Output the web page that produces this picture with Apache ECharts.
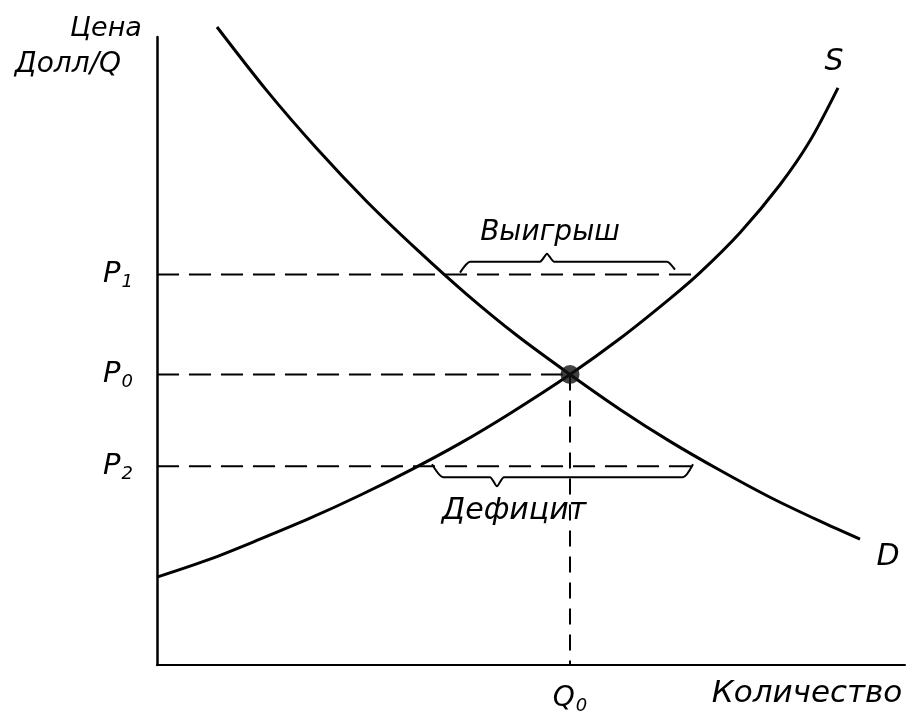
<!DOCTYPE html>
<html>
<head>
<meta charset="utf-8">
<script src="https://cdn.jsdelivr.net/npm/echarts@6/dist/echarts.min.js"></script>
<style>html,body{margin:0;padding:0;background:#fff;}#c{width:914px;height:715px;}</style>
</head>
<body>
<div id="c"></div>
<script>
// ---- data (arbitrary units) ----
const xMax = 748, yMax = 629;
const demandQ = [60, 110, 160, 210, 260, 310, 360, 413, 463, 513, 563, 613, 663, 703];
const demandP = [639, 575, 517, 464, 416, 371, 330, 291, 256, 224, 195, 168, 144, 126];
const supplyQ = [0, 53, 103, 153, 203, 253, 303, 353, 413, 463, 513, 543, 583, 623, 653, 681];
const supplyP = [88, 106, 126, 147, 170, 195, 222, 252, 291, 327, 367, 393, 433, 481, 525, 578];
const P1 = 391, P0 = 291, P2 = 199, Q0 = 413;
const P1end = 536, P2end = 543;
const priceTicks = [P1, P0, P2];
const priceTickNames = ['1', '0', '2'];
const qtyTicks = [Q0];
const qtyTickNames = ['0'];
const gainBraceQ = [303, 313, 383, 390, 397, 510, 518];
const gainBraceP = [393, 404, 404, 412, 404, 404, 396];
const shortBraceQ = [275, 286, 333, 340, 347, 526, 536];
const shortBraceP = [201, 188, 188, 179, 188, 188, 201];

const zip = (a, b) => a.map((v, i) => [v, b[i]]);
const FONT = '"DejaVu Sans"';
const dashed = { color: '#000', width: 2, type: [22, 10] };

const chart = echarts.init(document.getElementById('c'), null, { renderer: 'canvas' });
chart.setOption({
  animation: false,
  backgroundColor: '#fff',
  grid: { left: 157, right: 9, top: 37, bottom: 49 },
  xAxis: {
    type: 'value', min: 0, max: xMax,
    axisLine: { lineStyle: { color: '#000', width: 2 } },
    axisTick: { show: false },
    splitLine: { show: false },
    axisLabel: {
      customValues: qtyTicks, margin: 18,
      formatter: v => '{p|Q}{s|' + qtyTickNames[qtyTicks.indexOf(v)] + '}',
      rich: {
        p: { fontSize: 28, fontStyle: 'italic', fontFamily: FONT, color: '#000' },
        s: { fontSize: 18, fontStyle: 'italic', fontFamily: FONT, color: '#000', padding: [14, 0, 0, 1] }
      }
    }
  },
  yAxis: {
    type: 'value', min: 0, max: yMax,
    axisLine: { show: true, lineStyle: { color: '#000', width: 2.5 } },
    axisTick: { show: false },
    splitLine: { show: false },
    axisLabel: {
      customValues: priceTicks, margin: 24,
      formatter: v => '{p|P}{s|' + priceTickNames[priceTicks.indexOf(v)] + '}',
      rich: {
        p: { fontSize: 29, fontStyle: 'italic', fontFamily: FONT, color: '#000' },
        s: { fontSize: 18, fontStyle: 'italic', fontFamily: FONT, color: '#000', padding: [16, 0, 0, 1] }
      }
    }
  },
  series: [
    { type: 'line', data: zip(demandQ, demandP), smooth: 0.3, symbol: 'none', clip: false,
      lineStyle: { color: '#000', width: 3 } },
    { type: 'line', data: zip(supplyQ, supplyP), smooth: 0.3, symbol: 'none', clip: false,
      lineStyle: { color: '#000', width: 3 } },
    { type: 'line', data: [[0, P1], [P1end, P1]], symbol: 'none', lineStyle: dashed },
    { type: 'line', data: [[0, P0], [Q0, P0]], symbol: 'none', lineStyle: dashed },
    { type: 'line', data: [[0, P2], [P2end, P2]], symbol: 'none', lineStyle: dashed },
    { type: 'line', data: [[Q0, P0], [Q0, 0]], symbol: 'none', lineStyle: { color: '#000', width: 2, type: [16, 10] } },
    { type: 'line', data: zip(gainBraceQ, gainBraceP), smooth: 0.2, symbol: 'none',
      lineStyle: { color: '#000', width: 2 } },
    { type: 'line', data: zip(shortBraceQ, shortBraceP), smooth: 0.2, symbol: 'none',
      lineStyle: { color: '#000', width: 2 } },
    { type: 'scatter', data: [[Q0, P0]], symbol: 'circle', symbolSize: 19,
      itemStyle: { color: '#111' }, z: 5 }
  ],
  graphic: [
    { type: 'text', x: 106, y: 29, style: { text: 'Цена', font: 'italic 27px ' + FONT, fill: '#000', align: 'center', verticalAlign: 'middle' } },
    { type: 'text', x: 68, y: 65, style: { text: 'Долл/Q', font: 'italic 28px ' + FONT, fill: '#000', align: 'center', verticalAlign: 'middle' } },
    { type: 'text', x: 807, y: 694, style: { text: 'Количество', font: 'italic 31px ' + FONT, fill: '#000', align: 'center', verticalAlign: 'middle' } },
    { type: 'text', x: 550, y: 233, style: { text: 'Выигрыш', font: 'italic 28px ' + FONT, fill: '#000', align: 'center', verticalAlign: 'middle' } },
    { type: 'text', x: 514, y: 511, style: { text: 'Дефицит', font: 'italic 30px ' + FONT, fill: '#000', align: 'center', verticalAlign: 'middle' } },
    { type: 'text', x: 834, y: 62, style: { text: 'S', font: 'italic 30px ' + FONT, fill: '#000', align: 'center', verticalAlign: 'middle' } },
    { type: 'text', x: 888, y: 557, style: { text: 'D', font: 'italic 30px ' + FONT, fill: '#000', align: 'center', verticalAlign: 'middle' } }
  ]
});
</script>
</body>
</html>
